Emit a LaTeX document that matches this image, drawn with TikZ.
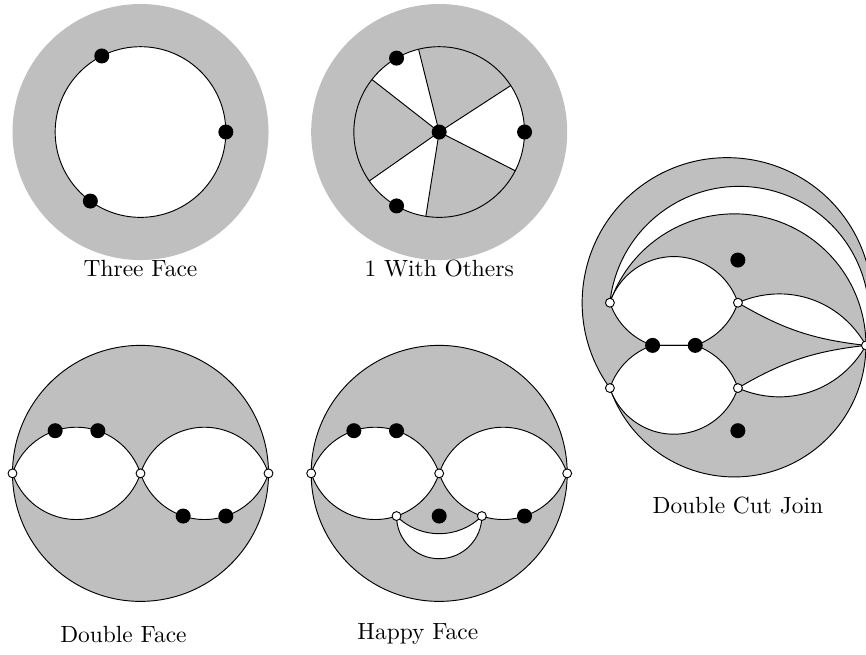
\documentclass[tikz,border=0pt]{standalone}
\usepackage{tikz}
\usetikzlibrary{calc}
\definecolor{FaceGray}{RGB}{191,191,191}

\begin{document}
\begin{tikzpicture}[scale=0.64,
	dot/.style={circle, fill=black, inner sep=0pt, minimum size=6.4pt},
	vtx/.style={circle, draw, fill=white, inner sep=0pt, minimum size=3.8pt},
	hole/.style={draw, fill=white}]
	\clip (-3.293,-12.234) rectangle (17.003,3.094);
	% Three Face
	\fill[FaceGray] (0,0) circle (3);
	\draw[hole] (0,0) circle (2);
	\foreach \a in {117,0,234} \node[dot] at (\a:2) {};
	\node (threelbl) at (0,-3.2) {Three Face};
	% 1 With Others
	\fill[FaceGray] (7,0) circle (3);
	\fill[white] (7,0) circle (2);
	\foreach \s/\e in {33/104,142/215,261/333}
		\fill[FaceGray] (7,0) -- ++(\s:2) arc[start angle=\s, end angle=\e, radius=2] -- cycle;
	\foreach \a in {33,104,142,215,261,333}
		\draw (7,0) -- ++(\a:2);
	\draw (7,0) circle (2);
	\node[dot] (hub) at (7,0) {};
	\foreach \a in {120,0,240} \node[dot] at ($(hub)+(\a:2)$) {};
	\node (otherslbl) at (7,-3.2) {1 With Others};
	% Double Face
	\draw[fill=FaceGray] (0,-8) circle (3);
	\foreach \x in {-3,0}
		\draw[hole] (\x,-8) arc[start angle=161.57, end angle=18.43, radius=1.581]
			arc[start angle=-18.43, end angle=-161.57, radius=1.581] -- cycle;
	\foreach \x in {-3,0,3} \node[vtx] at (\x,-8) {};
	\foreach \p in {(-2,-7),(-1,-7),(1,-9),(2,-9)} \node[dot] at \p {};
	\node (doublelbl) at (-0.4,-11.77) {Double Face};
	% Happy Face
	\draw[fill=FaceGray] (7,-8) circle (3);
	\foreach \x in {4,7}
		\draw[hole] (\x,-8) arc[start angle=161.57, end angle=18.43, radius=1.581]
			arc[start angle=-18.43, end angle=-161.57, radius=1.581] -- cycle;
	\draw[hole] (6,-9) arc[start angle=225, end angle=315, radius=1.4142]
		arc[start angle=0, end angle=-180, radius=1] -- cycle;
	\foreach \p in {(4,-8),(7,-8),(10,-8),(6,-9),(8,-9)} \node[vtx] at \p {};
	\foreach \p in {(5,-7),(6,-7),(7,-9),(9,-9)} \node[dot] at \p {};
	\node (happylbl) at (6.5,-11.77) {Happy Face};
	% Double Cut Join
	\coordinate (b) at (11,-4);
	\coordinate (m1) at (14,-4);
	\coordinate (a) at (11,-6);
	\coordinate (m2) at (14,-6);
	\coordinate (e) at (17,-5);
	\coordinate (d1) at (12,-5);
	\coordinate (d2) at (13,-5);
	\draw[fill=FaceGray] (a) arc[start angle=216.03, end angle=-17.10, radius=3.4]
		arc[start angle=0, end angle=-161.08, radius=3.083] -- cycle;
	\draw[hole] (b) arc[start angle=173.97, end angle=-12.9, radius=3.047]
		arc[start angle=0, end angle=161.08, radius=3.083] -- cycle;
	\draw[hole] (m1) to[bend left=42] (e) to[bend left=12] (m1);
	\draw[hole] (m2) to[bend right=42] (e) to[bend right=12] (m2);
	\draw[hole] (b) arc[start angle=161.57, end angle=18.43, radius=1.581]
		arc[start angle=-18.43, end angle=-71.57, radius=1.581] -- (d1)
		arc[start angle=-108.43, end angle=-161.57, radius=1.581] -- cycle;
	\draw[hole] (a) arc[start angle=198.43, end angle=341.57, radius=1.581]
		arc[start angle=18.43, end angle=71.57, radius=1.581] -- (d1)
		arc[start angle=108.43, end angle=161.57, radius=1.581] -- cycle;
	\foreach \p in {b,m1,a,m2,e} \node[vtx] at (\p) {};
	\foreach \p in {d1,d2} \node[dot] at (\p) {};
	\node[dot] at (14,-3) {};
	\node[dot] at (14,-7) {};
	\node (cutlbl) at (14,-8.75) {Double Cut Join};
\end{tikzpicture}
\end{document}
